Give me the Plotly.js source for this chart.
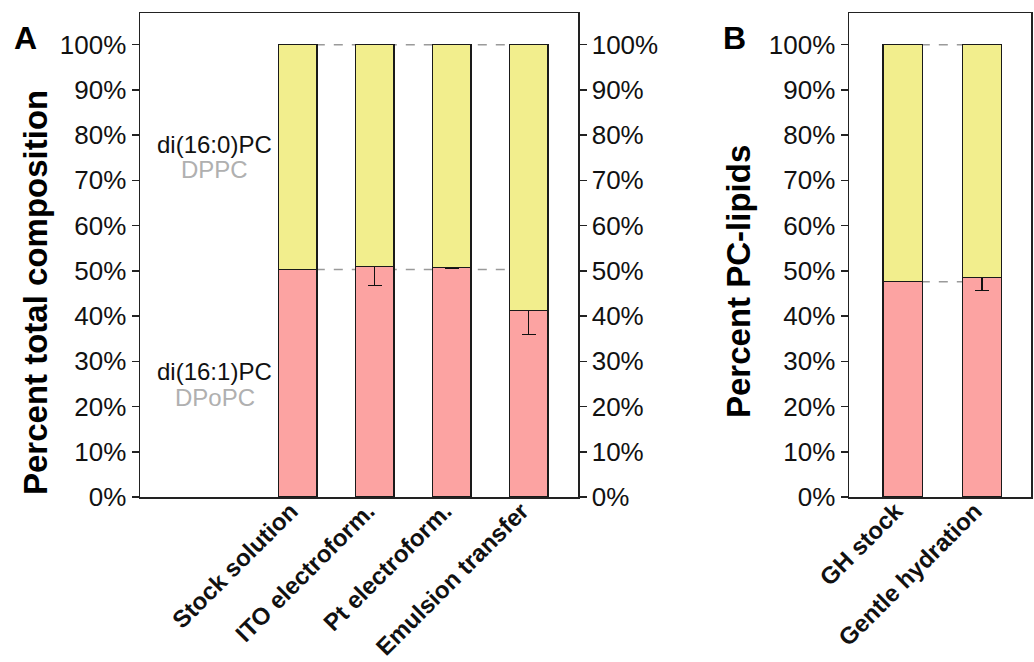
<!DOCTYPE html>
<html>
<head>
<meta charset="utf-8">
<script src="https://cdn.plot.ly/plotly-3.0.1.min.js"></script>
<style>html,body{margin:0;padding:0;background:#fff;}#chart{width:1034px;height:662px;}</style>
</head>
<body>
<div id="chart"></div>
<script>
// Panel A data
const catsA = ["Stock solution", "ITO electroform.", "Pt electroform.", "Emulsion transfer"];
const dpopcA = [50.3, 51.0, 50.8, 41.2];      // di(16:1)PC share (%)
const dppcA  = [49.7, 49.0, 49.2, 58.8];      // di(16:0)PC share (%)
const errA   = [null, 4.3, 0.3, 5.2];         // error on DPoPC (%)
// Panel B data
const catsB = ["GH stock", "Gentle hydration"];
const dpopcB = [47.6, 48.5];
const dppcB  = [52.4, 51.5];
const errB   = [null, 2.8];
const total = 100;

const pink = "#FCA3A2";
const yellow = "#F2EE8D";
const edge = {color: "#1a1a1a", width: 1.2};
const FONT = "Liberation Sans, Arial, Helvetica, sans-serif";

const traces = [
  {type: "bar", x: catsA, y: dpopcA, name: "di(16:1)PC", marker: {color: pink, line: edge},
   error_y: {type: "data", array: errA, visible: true, color: "#111", thickness: 1.3, width: 7},
   xaxis: "x", yaxis: "y", hoverinfo: "y"},
  {type: "bar", x: catsA, y: dppcA, name: "di(16:0)PC", marker: {color: yellow, line: edge},
   xaxis: "x", yaxis: "y", hoverinfo: "y"},
  {type: "scatter", x: catsA, y: dpopcA, mode: "none", xaxis: "x", yaxis: "y2", hoverinfo: "skip", showlegend: false},
  {type: "bar", x: catsB, y: dpopcB, name: "di(16:1)PC", marker: {color: pink, line: edge},
   error_y: {type: "data", array: errB, visible: true, color: "#111", thickness: 1.3, width: 7},
   xaxis: "x2", yaxis: "y3", hoverinfo: "y"},
  {type: "bar", x: catsB, y: dppcB, name: "di(16:0)PC", marker: {color: yellow, line: edge},
   xaxis: "x2", yaxis: "y3", hoverinfo: "y"}
];

const tickFont = {family: FONT, size: 26, color: "#111"};
const xTickFont = {family: FONT, size: 24, color: "#111", weight: "bold"};
const yCommon = {
  range: [0, 107], tickmode: "linear", tick0: 0, dtick: 10, ticksuffix: "%",
  ticks: "outside", ticklen: 7, tickwidth: 1.5, tickcolor: "#222",
  showline: true, linecolor: "#222", linewidth: 1.5, showgrid: false, zeroline: false,
  tickfont: tickFont, fixedrange: true
};
const xCommon = {
  type: "category", tickangle: -45, ticks: "", showline: true, linecolor: "#222", linewidth: 1.5,
  mirror: true, showgrid: false, zeroline: false, tickfont: xTickFont, fixedrange: true,
  ticklabelstandoff: -11, ticklabelshift: -7
};

const dash = {color: "#9a9a9a", width: 1.5, dash: "dash"};
const shapes = [
  {type: "line", xref: "x", yref: "y", x0: 0, x1: catsA.length - 1, y0: total, y1: total, line: dash, layer: "below"},
  {type: "line", xref: "x", yref: "y", x0: 0, x1: catsA.length - 1, y0: dpopcA[0], y1: dpopcA[0], line: dash, layer: "below"},
  {type: "line", xref: "x2", yref: "y3", x0: 0, x1: catsB.length - 1, y0: total, y1: total, line: dash, layer: "below"},
  {type: "line", xref: "x2", yref: "y3", x0: 0, x1: catsB.length - 1, y0: dpopcB[0], y1: dpopcB[0], line: dash, layer: "below"}
];

const annotations = [
  {text: "<b>A</b>", xref: "paper", yref: "paper", x: 25/1034, y: 1 - 38/484 + 13/484, xanchor: "center", yanchor: "middle", showarrow: false, font: {family: FONT, size: 32, color: "#000"}},
  {text: "<b>B</b>", xref: "paper", yref: "paper", x: 734/1034, y: 1 - 38/484 + 13/484, xanchor: "center", yanchor: "middle", showarrow: false, font: {family: FONT, size: 32, color: "#000"}},
  {text: "<b>Percent total composition</b>", xref: "paper", yref: "paper", x: 35/1034, y: (497 - 293)/484, textangle: -90, xanchor: "center", yanchor: "middle", showarrow: false, font: {family: FONT, size: 33, color: "#000"}},
  {text: "<b>Percent PC-lipids</b>", xref: "paper", yref: "paper", x: 738/1034, y: (497 - 282)/484, textangle: -90, xanchor: "center", yanchor: "middle", showarrow: false, font: {family: FONT, size: 33, color: "#000"}},
  {text: "di(16:0)PC", xref: "x", yref: "y", x: -1.08, y: 77.9, showarrow: false, xanchor: "center", yanchor: "middle", font: {family: FONT, size: 24, color: "#111"}},
  {text: "DPPC", xref: "x", yref: "y", x: -1.08, y: 72.3, showarrow: false, xanchor: "center", yanchor: "middle", font: {family: FONT, size: 24, color: "#b0b0b0"}},
  {text: "di(16:1)PC", xref: "x", yref: "y", x: -1.08, y: 27.7, showarrow: false, xanchor: "center", yanchor: "middle", font: {family: FONT, size: 24, color: "#111"}},
  {text: "DPoPC", xref: "x", yref: "y", x: -1.08, y: 21.9, showarrow: false, xanchor: "center", yanchor: "middle", font: {family: FONT, size: 24, color: "#b0b0b0"}}
];

const layout = {
  width: 1034, height: 662,
  margin: {l: 0, r: 0, t: 13, b: 165, pad: 0},
  paper_bgcolor: "#fff", plot_bgcolor: "#fff",
  showlegend: false, barmode: "stack", bargap: 0.5,
  font: {family: FONT, color: "#111"},
  xaxis: Object.assign({}, xCommon, {domain: [140/1034, 578/1034], range: [-2.05, 3.64], anchor: "y"}),
  xaxis2: Object.assign({}, xCommon, {domain: [849/1034, 1031/1034], range: [-0.68, 1.62], anchor: "y3"}),
  yaxis: Object.assign({}, yCommon, {anchor: "x", side: "left"}),
  yaxis2: Object.assign({}, yCommon, {anchor: "x", overlaying: "y", side: "right"}),
  yaxis3: Object.assign({}, yCommon, {anchor: "x2", side: "left", mirror: true}),
  shapes: shapes,
  annotations: annotations
};

Plotly.newPlot("chart", traces, layout, {staticPlot: true, displayModeBar: false});
</script>
</body>
</html>
